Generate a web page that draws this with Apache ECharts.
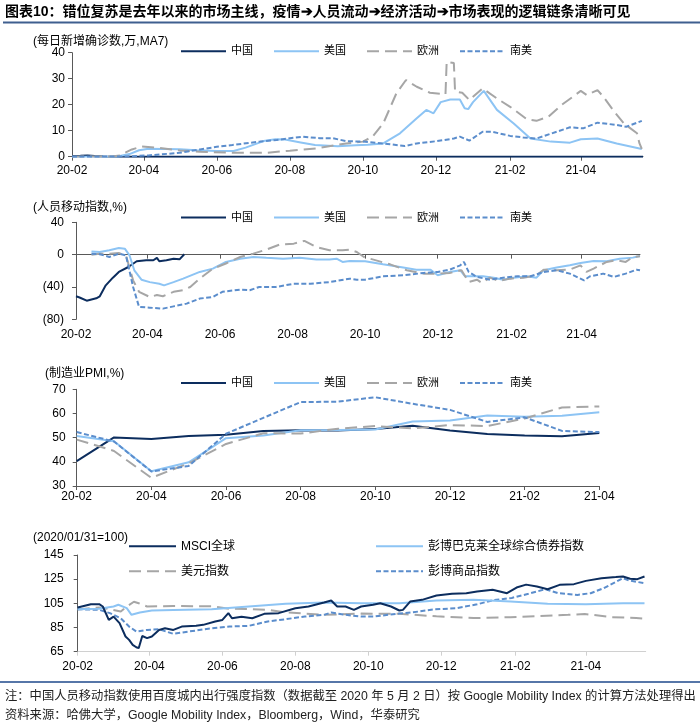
<!DOCTYPE html>
<html><head><meta charset="utf-8">
<script src="https://cdn.jsdelivr.net/npm/echarts@6/dist/echarts.min.js"></script>
<style>html,body{margin:0;padding:0;background:#fff}#c{width:700px;height:728px}</style>
</head><body><div id="c"></div><script>
// ---------- Panel 1: daily new confirmed cases (万, MA7) ----------
const casesChina = [['2020-02-01',0.28],['2020-02-08',0.33],['2020-02-14',0.5],['2020-02-20',0.25],['2020-02-27',0.05],['2020-03-10',0.01],['2021-05-23',0.01]];
const casesUS = [['2020-02-01',0],['2020-03-10',0.1],['2020-03-20',1],['2020-03-28',2.5],['2020-04-05',3.1],['2020-04-18',3.0],['2020-05-01',2.9],['2020-05-15',2.5],['2020-06-01',2.2],['2020-06-15',2.2],['2020-06-25',3.5],['2020-07-10',6.0],['2020-07-20',6.7],['2020-07-28',6.6],['2020-08-10',5.5],['2020-08-22',4.5],['2020-09-10',4.0],['2020-09-25',4.4],['2020-10-05',4.6],['2020-10-18',5.1],['2020-11-01',9],['2020-11-15',14.8],['2020-11-23',18],['2020-11-29',16.7],['2020-12-05',21],['2020-12-13',22],['2020-12-21',22],['2020-12-25',18.6],['2020-12-28',18.3],['2021-01-01',21],['2021-01-10',25.3],['2021-01-21',18],['2021-02-04',12.8],['2021-02-18',7],['2021-03-07',5.8],['2021-03-23',5.4],['2021-04-01',6.7],['2021-04-15',7],['2021-05-01',5.1],['2021-05-22',3]];
const casesEurope = [['2020-02-01',0],['2020-03-05',0.1],['2020-03-12',0.5],['2020-03-22',2.8],['2020-03-30',3.9],['2020-04-14',3.4],['2020-05-01',2.4],['2020-05-18',1.9],['2020-06-14',1.5],['2020-07-12',1.5],['2020-08-01',2.3],['2020-08-23',3.2],['2020-09-17',5.1],['2020-10-01',5.8],['2020-10-09',7.7],['2020-10-18',12.8],['2020-10-29',24.4],['2020-11-06',29.5],['2020-11-15',26.9],['2020-11-26',24.6],['2020-12-09',24],['2020-12-10',36.5],['2020-12-16',36],['2020-12-17',25],['2020-12-23',24.6],['2020-12-29',21.8],['2021-01-09',26.3],['2021-01-21',22.4],['2021-02-01',19.2],['2021-02-15',14.4],['2021-02-23',13.8],['2021-03-05',15.4],['2021-03-16',19.9],['2021-04-01',25.3],['2021-04-06',23.7],['2021-04-15',25.6],['2021-04-20',23],['2021-04-29',17.3],['2021-05-07',12.8],['2021-05-18',9],['2021-05-20',5.2],['2021-05-22',3]];
const casesSA = [['2020-02-01',0],['2020-03-15',0.05],['2020-04-05',0.5],['2020-05-01',1.5],['2020-05-18',2.8],['2020-06-01',3.8],['2020-06-14',4.5],['2020-07-07',5.8],['2020-07-21',6.4],['2020-08-01',7.1],['2020-08-12',7.7],['2020-08-26',7.1],['2020-09-06',7.1],['2020-09-17',6],['2020-10-01',5.8],['2020-10-18',5.1],['2020-11-05',4.1],['2020-11-15',5.1],['2020-12-02',6],['2020-12-16',7],['2020-12-21',7.7],['2020-12-29',6.2],['2021-01-09',9.6],['2021-01-17',9.6],['2021-02-01',8],['2021-02-12',7.4],['2021-02-23',7],['2021-03-12',9.6],['2021-03-23',11.3],['2021-04-03',10.9],['2021-04-15',13.1],['2021-05-01',12.2],['2021-05-09',11.5],['2021-05-22',13.8]];

// ---------- Panel 2: mobility index (%) ----------
const mobChina = [['2020-02-01',-51.5],['2020-02-04',-53],['2020-02-10',-57],['2020-02-18',-54],['2020-02-21',-51.5],['2020-02-26',-38],['2020-03-03',-28.5],['2020-03-08',-21.4],['2020-03-16',-15.3],['2020-03-23',-8.2],['2020-03-31',-7],['2020-04-06',-7],['2020-04-09',-4],['2020-04-11',-8.2],['2020-04-17',-7],['2020-04-23',-5],['2020-04-28',-5.8],['2020-05-02',0.4]];
const mobUS = [['2020-02-14',4],['2020-02-21',3.3],['2020-02-29',5.4],['2020-03-08',8.2],['2020-03-13',7.4],['2020-03-17',-1],['2020-03-21',-19.4],['2020-03-27',-31],['2020-04-03',-34],['2020-04-11',-36],['2020-04-15',-38],['2020-04-23',-34],['2020-05-01',-29.7],['2020-05-15',-21.4],['2020-05-26',-17.3],['2020-06-06',-9],['2020-06-18',-5],['2020-06-29',-2.9],['2020-07-10',-4],['2020-07-24',-5],['2020-08-07',-4],['2020-08-21',-6],['2020-09-01',-6],['2020-09-07',-5],['2020-09-12',-9],['2020-09-18',-8],['2020-10-01',-8.2],['2020-10-16',-12],['2020-11-02',-16],['2020-11-13',-18.6],['2020-11-25',-18.6],['2020-12-01',-25.6],['2020-12-11',-21.4],['2020-12-20',-19.4],['2020-12-24',-26.8],['2020-12-31',-26.8],['2021-01-08',-26.8],['2021-01-17',-28.5],['2021-01-25',-31],['2021-02-03',-28.5],['2021-02-14',-26.8],['2021-02-22',-28.5],['2021-02-28',-19.4],['2021-03-11',-16],['2021-03-22',-13.2],['2021-03-31',-10.3],['2021-04-11',-7.8],['2021-04-22',-8.2],['2021-05-03',-5],['2021-05-14',-3.7],['2021-05-20',-1.6]];
const mobEurope = [['2020-02-14',0],['2020-02-21',1.2],['2020-02-29',1.2],['2020-03-08',2],['2020-03-14',-1],['2020-03-20',-31.8],['2020-03-25',-46],['2020-04-03',-52.4],['2020-04-09',-50],['2020-04-14',-51.5],['2020-04-23',-46],['2020-05-01',-44],['2020-05-07',-40],['2020-05-15',-29.7],['2020-05-26',-17.3],['2020-06-06',-11],['2020-06-18',-2.9],['2020-06-29',1.2],['2020-07-10',6.2],['2020-07-21',12.4],['2020-08-02',13.6],['2020-08-11',17],['2020-08-21',9.5],['2020-09-01',5.4],['2020-09-12',5.4],['2020-09-18',6.2],['2020-09-24',3.3],['2020-09-30',-2.9],['2020-10-08',-6.2],['2020-10-22',-12],['2020-11-05',-19.4],['2020-11-19',-23.5],['2020-12-01',-23.5],['2020-12-11',-22.7],['2020-12-21',-19.4],['2020-12-27',-33.8],['2021-01-03',-31],['2021-01-07',-35],['2021-01-14',-28.5],['2021-01-21',-32.6],['2021-01-31',-29.7],['2021-02-11',-28.5],['2021-02-22',-25.6],['2021-02-28',-18.6],['2021-03-11',-19.4],['2021-03-22',-18.6],['2021-03-31',-13.2],['2021-04-05',-21.4],['2021-04-11',-17.3],['2021-04-22',-9],['2021-04-30',-7],['2021-05-08',-9],['2021-05-14',-2.9],['2021-05-20',-2]];
const mobSA = [['2020-02-14',1.2],['2020-02-21',0.5],['2020-02-29',-2.9],['2020-03-08',1.2],['2020-03-14',-1],['2020-03-20',-40],['2020-03-25',-64.7],['2020-04-03',-65.6],['2020-04-14',-66.8],['2020-04-23',-64],['2020-05-04',-60.6],['2020-05-15',-54.4],['2020-05-26',-52.4],['2020-06-03',-46],['2020-06-18',-43.3],['2020-06-26',-44],['2020-07-04',-40],['2020-07-18',-40],['2020-08-02',-36],['2020-08-16',-36],['2020-09-01',-34],['2020-09-18',-29.7],['2020-09-24',-31],['2020-10-01',-31],['2020-10-16',-26.8],['2020-11-02',-25.6],['2020-11-19',-22.7],['2020-12-01',-21.4],['2020-12-11',-18.6],['2020-12-20',-13.2],['2020-12-23',-9],['2020-12-27',-21.4],['2021-01-03',-27.6],['2021-01-14',-31],['2021-01-25',-28.5],['2021-02-06',-26.8],['2021-02-17',-26.8],['2021-02-28',-21.4],['2021-03-11',-19.4],['2021-03-22',-23.5],['2021-04-03',-31.8],['2021-04-08',-26.8],['2021-04-19',-23.5],['2021-04-28',-27.6],['2021-05-08',-23.5],['2021-05-17',-18.6],['2021-05-20',-19.4]];

// ---------- Panel 3: manufacturing PMI ----------
const pmiMonths = ['20-02','20-03','20-04','20-05','20-06','20-07','20-08','20-09','20-10','20-11','20-12','21-01','21-02','21-03','21-04'];
const pmiChina  = [40.3,50.1,49.4,50.7,51.2,52.8,53.1,53.0,53.6,54.9,53.0,51.5,50.9,50.6,51.9];
const pmiUS     = [50.7,48.5,36.1,39.8,49.8,50.9,53.1,53.2,53.4,56.7,57.1,59.2,58.6,59.1,60.5];
const pmiEurope = [49.2,44.5,33.4,39.4,47.4,51.8,51.7,53.7,54.8,53.8,55.2,54.8,57.9,62.5,62.9];
const pmiSA     = [52.3,48.4,36.0,38.3,51.6,58.2,64.7,64.9,66.7,64.0,61.5,56.5,58.4,52.8,52.3];

// ---------- Panel 4: asset prices (2020/01/31=100) ----------
const msci = [['2020-02-01',101.5],['2020-02-12',104.3],['2020-02-19',104.3],['2020-02-22',102.4],['2020-02-27',91.3],['2020-03-02',94],['2020-03-07',88.6],['2020-03-12',77.6],['2020-03-15',74.8],['2020-03-18',70.7],['2020-03-21',68.7],['2020-03-23',67.9],['2020-03-26',78],['2020-03-30',76.2],['2020-04-03',77.6],['2020-04-09',83],['2020-04-14',84.4],['2020-04-21',83],['2020-04-28',85.8],['2020-05-10',86.4],['2020-05-16',87.2],['2020-05-26',90],['2020-06-01',91.3],['2020-06-06',96.9],['2020-06-09',92.7],['2020-06-17',94],['2020-06-26',92.7],['2020-07-06',96.3],['2020-07-18',96.9],['2020-08-01',101],['2020-08-12',102.4],['2020-08-25',105.7],['2020-08-31',107.3],['2020-09-05',102.4],['2020-09-12',102.4],['2020-09-19',99.6],['2020-09-25',102.4],['2020-10-05',103.8],['2020-10-11',105.1],['2020-10-20',102.4],['2020-10-27',99.1],['2020-10-30',99.6],['2020-11-05',106.5],['2020-11-15',107.9],['2020-11-27',111.5],['2020-12-10',113],['2020-12-22',113.4],['2020-12-31',114.8],['2021-01-13',116.2],['2021-01-25',113.4],['2021-02-02',118.1],['2021-02-10',120.5],['2021-02-19',118.9],['2021-02-28',116.7],['2021-03-10',120.3],['2021-03-22',120.9],['2021-04-01',123.6],['2021-04-14',125.8],['2021-04-26',126.7],['2021-05-02',127.2],['2021-05-08',125.3],['2021-05-14',125],['2021-05-20',127.2]];
const bondAgg = [['2020-02-01',100.2],['2020-02-19',100.5],['2020-03-02',102.4],['2020-03-06',103.8],['2020-03-13',101],['2020-03-17',95.5],['2020-03-24',97.5],['2020-04-03',99.1],['2020-04-21',99.6],['2020-05-23',100.2],['2020-06-23',102.4],['2020-07-24',104.6],['2020-08-25',105.7],['2020-09-25',105.1],['2020-10-27',105.1],['2020-11-27',107.3],['2020-12-28',107.9],['2021-01-28',106.5],['2021-02-28',104.6],['2021-04-01',104.3],['2021-05-02',105.1],['2021-05-20',105.1]];
const usdIndex = [['2020-02-01',100],['2020-02-19',101.6],['2020-02-28',100.2],['2020-03-08',98.2],['2020-03-13',102.4],['2020-03-19',106.3],['2020-03-23',105.1],['2020-03-30',102.4],['2020-04-21',102.8],['2020-05-23',102.6],['2020-06-07',100.5],['2020-06-23',100.3],['2020-07-09',99.6],['2020-07-24',97.5],['2020-08-25',95.5],['2020-09-25',96.5],['2020-10-27',96.3],['2020-11-27',94.3],['2020-12-28',92.8],['2021-01-28',93.6],['2021-03-17',95.5],['2021-03-31',96.2],['2021-04-23',93.6],['2021-05-13',92.8],['2021-05-20',92.3]];
const commodity = [['2020-02-01',100.2],['2020-02-19',99.6],['2020-02-28',96.9],['2020-03-08',92.7],['2020-03-15',85.8],['2020-03-21',81.7],['2020-03-30',83],['2020-04-09',83.6],['2020-04-21',79.8],['2020-05-04',81.7],['2020-05-23',84.4],['2020-06-07',85.8],['2020-06-23',86.4],['2020-07-09',90],['2020-07-24',91.9],['2020-08-09',94.1],['2020-08-25',95.5],['2020-08-31',97.4],['2020-09-12',95.5],['2020-09-25',94.1],['2020-10-06',94.1],['2020-10-27',96.6],['2020-11-12',98.2],['2020-11-25',100],['2020-12-13',100.9],['2020-12-31',104.2],['2021-01-13',107.5],['2021-01-29',109.5],['2021-02-12',112.9],['2021-02-26',116.7],['2021-03-09',113.4],['2021-03-25',112],['2021-04-05',113.4],['2021-04-16',117.6],['2021-05-02',125.8],['2021-05-07',123.9],['2021-05-20',121.7]];

// ---------- Axis tick labels ----------
const labelDates = ['2020-02-01','2020-04-01','2020-06-01','2020-08-01','2020-10-01','2020-12-01','2021-02-01','2021-04-01'];

// ---------- styles ----------
const LATIN = '"Liberation Sans", Arial, "Noto Sans CJK SC", sans-serif';
const AXIS = '#595959';
const NAVY = '#0c2d5e', LIGHT = '#8dc4f4', GRAY = '#a6a6a6', BLUE = '#5b8dcc';
const styles = {
  navy:  {color: NAVY,  width: 2, type: 'solid'},
  light: {color: LIGHT, width: 2, type: 'solid'},
  gray:  {color: GRAY,  width: 2, type: [12, 6]},
  blue:  {color: BLUE,  width: 2, type: [5, 2.5]}
};

function ts(s) { const p = s.split('-').map(Number); return new Date(p[0], p[1] - 1, p[2]).getTime(); }
function ym(v) { const d = new Date(v); return String(d.getFullYear()).slice(2) + '-' + String(d.getMonth() + 1).padStart(2, '0'); }
const labelTs = labelDates.map(ts);
const toXY = arr => arr.map(p => [ts(p[0]), p[1]]);

// x axes are value axes in milliseconds so the labels can sit on exact month starts
function dateAxis(gridIndex, maxDate, o) {
  return {
    type: 'value', gridIndex: gridIndex, position: 'bottom',
    min: ts('2020-02-01'), max: ts(maxDate),
    splitLine: {show: false},
    axisLine: {show: o.line !== false, onZero: !!o.onZero, lineStyle: {color: o.lineColor || AXIS, width: 1}},
    axisTick: {show: o.tick !== false, inside: false, length: 4, lineStyle: {color: o.lineColor || AXIS}, customValues: labelTs},
    axisLabel: {show: o.label !== false, customValues: labelTs, formatter: ym, margin: o.margin || 7,
      color: '#000', fontSize: 12, fontFamily: LATIN, hideOverlap: false},
    axisPointer: {show: false}
  };
}
function valueAxis(gridIndex, min, max, interval, margin, fmt) {
  return {
    type: 'value', gridIndex: gridIndex, min: min, max: max, interval: interval,
    splitLine: {show: false},
    axisLine: {show: true, onZero: false, lineStyle: {color: AXIS, width: 1}},
    axisTick: {show: true, inside: false, length: 4, lineStyle: {color: AXIS}},
    axisLabel: {margin: margin, color: '#000', fontSize: 12, fontFamily: LATIN, formatter: fmt}
  };
}
function line(name, data, st, xi, yi) {
  return {
    type: 'line', name: name, data: data, xAxisIndex: xi, yAxisIndex: yi,
    symbol: 'none', showSymbol: false, smooth: false, connectNulls: true,
    lineStyle: {color: st.color, width: st.width, type: st.type},
    itemStyle: {color: st.color},
    emphasis: {disabled: true}
  };
}
function legend(left, centerY, names, fontSize, itemWidth) {
  return {
    left: left, top: centerY - 7, orient: 'horizontal', itemWidth: itemWidth, itemHeight: 14, itemGap: 20,
    selectedMode: false, data: names, padding: 0,
    itemStyle: {opacity: 0, borderWidth: 0},
    textStyle: {fontSize: fontSize, fontFamily: LATIN, color: '#000'}
  };
}

const option = {
  animation: false,
  backgroundColor: '#fff',
  grid: [
    {left: 72, top: 52.7, width: 571, height: 104},
    {left: 76, top: 222.3, width: 564, height: 97},
    {left: 76.7, top: 389.3, width: 522.6, height: 96.7},
    {left: 77.7, top: 555, width: 568, height: 96.7}
  ],
  xAxis: [
    dateAxis(0, '2021-05-23', {margin: 8}),
    dateAxis(1, '2021-05-20', {line: false, tick: false, margin: 9}),
    dateAxis(1, '2021-05-20', {label: false, onZero: true}),
    {type: 'category', gridIndex: 2, data: pmiMonths, boundaryGap: false,
     axisLine: {show: true, onZero: false, lineStyle: {color: AXIS}},
     axisTick: {show: true, interval: 1, length: 4, lineStyle: {color: AXIS}},
     axisLabel: {interval: 1, margin: 5, color: '#000', fontSize: 12, fontFamily: LATIN},
     splitLine: {show: false}},
    dateAxis(3, '2021-05-21', {lineColor: '#d0d0d0', margin: 9})
  ],
  yAxis: [
    valueAxis(0, 0, 40, 10, 7),
    valueAxis(1, -80, 40, 40, 12, v => v < 0 ? '(' + (-v) + ')' : String(v)),
    valueAxis(2, 30, 70, 10, 11),
    valueAxis(3, 65, 145, 20, 14)
  ],
  legend: [
    legend(180, 52.7, ['中国', '美国', '欧洲', '南美'], 11, 45),
    legend(180, 219, ['中国', '美国', '欧洲', '南美'], 11, 45),
    legend(180, 384.3, ['中国', '美国', '欧洲', '南美'], 11, 45),
    legend(128, 547.3, ['MSCI全球'], 12, 47),
    legend(375, 547.3, ['彭博巴克莱全球综合债券指数'], 12, 47),
    legend(128, 572.3, ['美元指数'], 12, 47),
    legend(375, 572.3, ['彭博商品指数'], 12, 47)
  ],
  series: [
    line('中国', toXY(casesChina), styles.navy, 0, 0),
    line('美国', toXY(casesUS), styles.light, 0, 0),
    line('欧洲', toXY(casesEurope), styles.gray, 0, 0),
    line('南美', toXY(casesSA), styles.blue, 0, 0),
    line('中国', toXY(mobChina), styles.navy, 1, 1),
    line('美国', toXY(mobUS), styles.light, 1, 1),
    line('欧洲', toXY(mobEurope), styles.gray, 1, 1),
    line('南美', toXY(mobSA), styles.blue, 1, 1),
    line('中国', pmiChina, styles.navy, 3, 2),
    line('美国', pmiUS, styles.light, 3, 2),
    line('欧洲', pmiEurope, styles.gray, 3, 2),
    line('南美', pmiSA, styles.blue, 3, 2),
    line('美元指数', toXY(usdIndex), styles.gray, 4, 3),
    line('彭博商品指数', toXY(commodity), styles.blue, 4, 3),
    line('彭博巴克莱全球综合债券指数', toXY(bondAgg), styles.light, 4, 3),
    line('MSCI全球', toXY(msci), styles.navy, 4, 3)
  ],
  graphic: [
    {type: 'text', x: 5, y: 12, style: {text: '图表10：错位复苏是去年以来的市场主线，疫情➔人员流动➔经济活动➔市场表现的逻辑链条清晰可见',
      font: 'bold 14px ' + LATIN, fill: '#000', verticalAlign: 'middle'}},
    {type: 'line', shape: {x1: 3, y1: 22.5, x2: 700, y2: 22.5}, style: {stroke: '#3f5f8f', lineWidth: 2}},
    {type: 'text', x: 33, y: 42, style: {text: '(每日新增确诊数,万,MA7)', font: '12px ' + LATIN, fill: '#000', verticalAlign: 'middle'}},
    {type: 'text', x: 33, y: 208, style: {text: '(人员移动指数,%)', font: '12px ' + LATIN, fill: '#000', verticalAlign: 'middle'}},
    {type: 'text', x: 45, y: 374, style: {text: '(制造业PMI,%)', font: '12px ' + LATIN, fill: '#000', verticalAlign: 'middle'}},
    {type: 'text', x: 33, y: 538, style: {text: '(2020/01/31=100)', font: '12px ' + LATIN, fill: '#000', verticalAlign: 'middle'}},
    {type: 'line', shape: {x1: 0, y1: 682, x2: 700, y2: 682}, style: {stroke: '#5676a8', lineWidth: 2}},
    {type: 'text', x: 5, y: 697, style: {text: '注：中国人员移动指数使用百度城内出行强度指数（数据截至 2020 年 5 月 2 日）按 Google Mobility Index 的计算方法处理得出',
      font: '12.3px ' + LATIN, fill: '#222', verticalAlign: 'middle'}},
    {type: 'text', x: 5, y: 716, style: {text: '资料来源：哈佛大学，Google Mobility Index，Bloomberg，Wind，华泰研究',
      font: '12.3px ' + LATIN, fill: '#222', verticalAlign: 'middle'}}
  ]
};

const chart = echarts.init(document.getElementById('c'), null, {renderer: 'canvas', width: 700, height: 728});
chart.setOption(option);
</script></body></html>
